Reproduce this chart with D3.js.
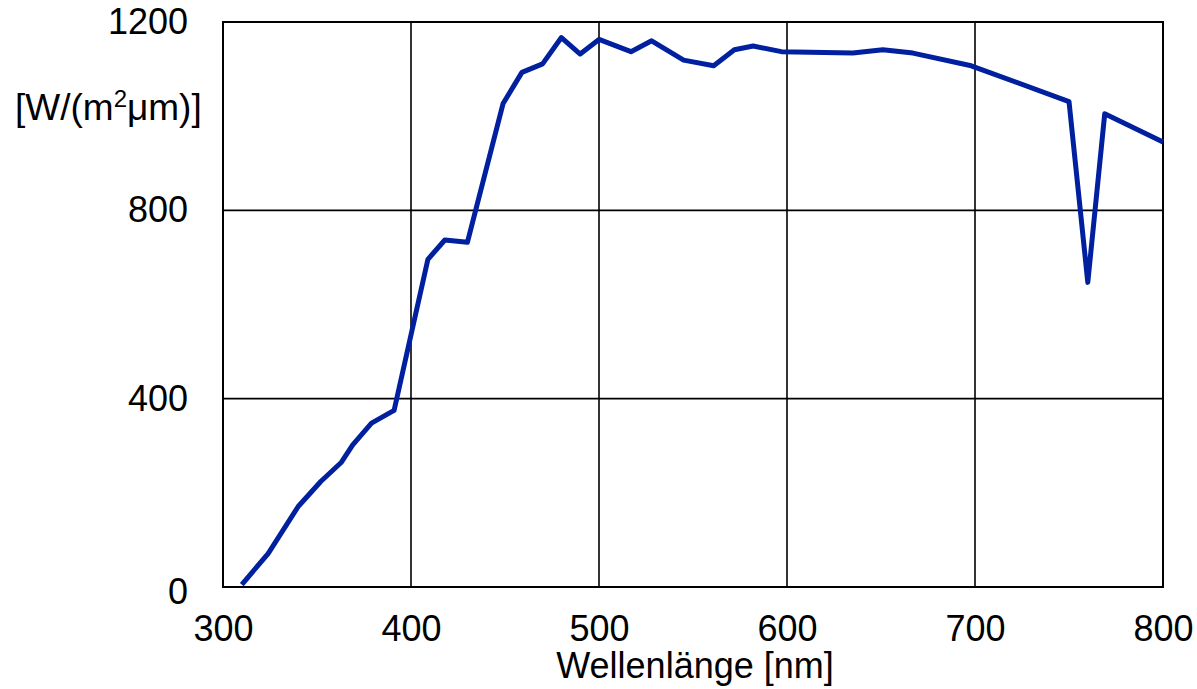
<!DOCTYPE html>
<html>
<head>
<meta charset="utf-8">
<script src="https://cdn.jsdelivr.net/npm/d3@7"></script>
<style>
  body { margin: 0; background: #fff; }
  text { font-family: "Liberation Sans", Arial, sans-serif; fill: #000; }
</style>
</head>
<body>
<div id="chart"></div>
<script>
// wavelength [nm] and spectral irradiance [W/(m²µm)]
const wavelength = [310, 324, 340, 352, 363, 369, 379, 391, 409, 418, 430, 449, 459, 470, 480, 490, 500, 517, 528, 545, 561, 572, 582, 597, 635, 651, 667, 698, 750, 760, 769, 800];
const irradiance = [5, 71, 171, 224, 265, 302, 348, 375, 696, 737, 732, 1027, 1093, 1111, 1167, 1132, 1163, 1137, 1160, 1119, 1107, 1141, 1149, 1137, 1134, 1141, 1134, 1107, 1031, 647, 1005, 945];
const xTicks = [300, 400, 500, 600, 700, 800];
const yTicks = [0, 400, 800, 1200];

const data = wavelength.map((w, i) => ({ w: w, v: irradiance[i] }));

const config = {
  width: 940, height: 565,
  margin: { left: 223, top: 22, right: 34, bottom: 102 }
};

const svg = d3.select('#chart')
  .append('svg')
  .attr('width', 1197).attr('height', 689)
  .append('g')
  .attr('transform', 'translate(' + config.margin.left + ',' + config.margin.top + ')');

const scaleX = d3.scaleLinear().domain([300, 800]).range([0, config.width]);
const scaleY = d3.scaleLinear().domain([0, 1200]).range([config.height, 0]);

// grid lines
svg.append('g')
  .selectAll('line.vgrid')
  .data(xTicks.slice(1, -1))
  .enter().append('line')
  .attr('x1', d => scaleX(d)).attr('x2', d => scaleX(d))
  .attr('y1', 0).attr('y2', config.height)
  .attr('stroke', '#000').attr('stroke-width', 1.6);

svg.append('g')
  .selectAll('line.hgrid')
  .data(yTicks.slice(1, -1))
  .enter().append('line')
  .attr('x1', 0).attr('x2', config.width)
  .attr('y1', d => scaleY(d)).attr('y2', d => scaleY(d))
  .attr('stroke', '#000').attr('stroke-width', 1.6);

// frame
svg.append('rect')
  .attr('x', 0).attr('y', 0)
  .attr('width', config.width).attr('height', config.height)
  .attr('fill', 'none').attr('stroke', '#000').attr('stroke-width', 2);

// axes
svg.append('g')
  .attr('transform', 'translate(0,' + config.height + ')')
  .call(d3.axisBottom(scaleX).tickValues(xTicks).tickFormat(d3.format('d')).tickSize(0).tickPadding(28))
  .call(g => g.select('.domain').remove())
  .call(g => g.selectAll('text').attr('font-size', 36).attr('font-family', null));

svg.append('g')
  .call(d3.axisLeft(scaleY).tickValues(yTicks).tickFormat(d3.format('d')).tickSize(0).tickPadding(35))
  .call(g => g.select('.domain').remove())
  .call(g => g.selectAll('text').attr('font-size', 36).attr('font-family', null))
  .call(g => g.selectAll('.tick:first-of-type text').attr('dy', '0.45em'));

// axis titles
svg.append('text')
  .attr('x', scaleX(550) + 2).attr('y', config.height + 91)
  .attr('text-anchor', 'middle')
  .attr('font-size', 36)
  .text('Wellenlänge [nm]');

const unit = svg.append('text')
  .attr('x', 15 - config.margin.left).attr('y', 98)
  .attr('font-size', 37);
unit.append('tspan').text('[W/(m');
unit.append('tspan').attr('font-size', 24).attr('dy', -13).text('2');
unit.append('tspan').attr('dy', 13).text('μm)]');

// curve
svg.append('path')
  .datum(data)
  .attr('fill', 'none')
  .attr('stroke', '#00209f')
  .attr('stroke-width', 5)
  .attr('stroke-linejoin', 'round')
  .attr('d', d3.line().x(d => scaleX(d.w)).y(d => scaleY(d.v)));
</script>
</body>
</html>
